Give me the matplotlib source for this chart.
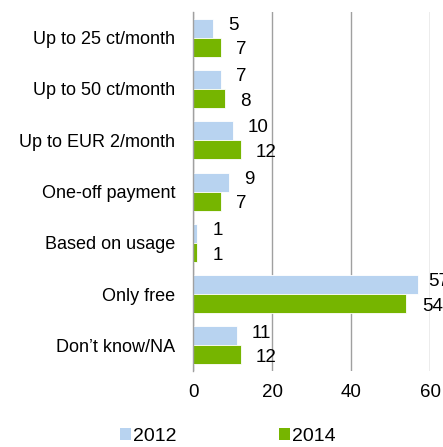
import matplotlib.pyplot as plt
import matplotlib as mpl
from matplotlib.patches import Patch
import numpy as np

mpl.rcParams["font.family"] = ["Liberation Sans", "DejaVu Sans"]

C_12 = "#B8D3F0"
C_14 = "#76B500"

categories = ["Up to 25 ct/month", "Up to 50 ct/month", "Up to EUR 2/month",
              "One-off payment", "Based on usage", "Only free", "Don\u2019t know/NA"]
vals_2012 = [5, 7, 10, 9, 1, 57, 11]
vals_2014 = [7, 8, 12, 7, 1, 54, 12]
xticks = [0, 20, 40, 60]

fig = plt.figure(figsize=(4.43, 4.47), dpi=100)
ax = fig.add_axes([0.436, 0.170, 0.535, 0.803])

y = np.arange(len(categories))
h = 0.37

ax.barh(y - h/2, vals_2012, h, color=C_12, edgecolor="white", linewidth=0.6, label="2012")
ax.barh(y + h/2, vals_2014, h, color=C_14, edgecolor="white", linewidth=0.6, label="2014")

# labels outside bar end; keep the long one nearer to the edge like the original
for i, (a, b) in enumerate(zip(vals_2012, vals_2014)):
    off_a = 11 if a < 55 else 7
    ax.annotate(str(a), (a, i - h/2), xytext=(off_a, 2), textcoords="offset points",
                ha="left", va="center", fontsize=13.5, annotation_clip=False)
    ax.annotate(str(b), (b, i + h/2), xytext=(11, -2), textcoords="offset points",
                ha="left", va="center", fontsize=13.5, annotation_clip=False)

ax.set_ylim(len(categories) - 0.5, -0.5)
ax.set_xlim(0, 60)
ax.set_yticks(y)
ax.set_yticklabels(categories, fontsize=13)
ax.set_xticks(xticks)
ax.set_xticklabels([str(t) for t in xticks], fontsize=13.5)
ax.tick_params(axis="both", length=0)
ax.tick_params(axis="y", pad=13)
ax.tick_params(axis="x", pad=9)

ax.grid(axis="x", color="#A0A0A0", linewidth=1.0)
ax.set_axisbelow(True)
for s in ["top", "right", "bottom"]:
    ax.spines[s].set_visible(False)
ax.spines["left"].set_color("#A0A0A0")
ax.spines["left"].set_linewidth(1.0)

handles = [Patch(facecolor=C_12, label="2012"), Patch(facecolor=C_14, label="2014")]
fig.legend(handles=handles, loc="lower left", bbox_to_anchor=(0.232, -0.034), ncol=2,
           frameon=False, fontsize=14, handlelength=0.55, handleheight=0.55,
           handletextpad=0.1, columnspacing=5.3)

fig.savefig("out.png", dpi=100)
